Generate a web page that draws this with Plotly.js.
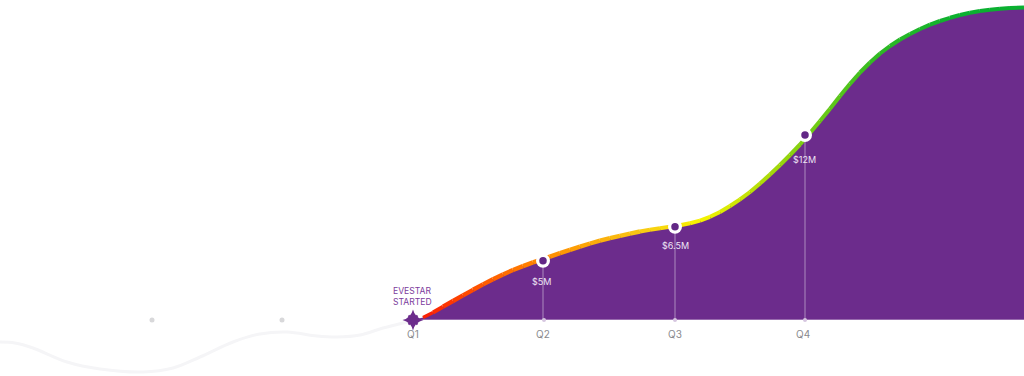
<!DOCTYPE html>
<html><head><meta charset="utf-8">
<script src="https://cdn.plot.ly/plotly-3.0.1.min.js"></script>
<style>html,body{margin:0;padding:0;background:#fff;overflow:hidden}#c{width:1024px;height:376px}</style>
</head><body><div id="c"></div>
<script>
// Growth curve (height above the baseline)
const growthX = [413,423,433,443,453,463,473,483,493,503,513,523,533,543,550,560,570,580,590,600,610,620,630,640,650,660,670,680,690,700,710,720,730,740,750,760,770,780,790,800,810,820,830,840,850,860,870,880,890,900,910,920,930,940,950,960,970,980,990,1000,1010,1024];
const growthY = [0,2.5,7.5,13.3,19,24.6,30.2,35.6,40.8,45.6,50,53.9,57.6,60.9,63.3,66.8,70.2,73.4,76.5,79.3,81.8,84.2,86.4,88.5,90.3,91.8,93.2,94.7,96.7,99.4,103.2,108,114,120.6,128,136.5,145.5,155,165,175.5,187,199,211.3,224,236.2,247.5,257.5,266.5,274,280.5,286,291,295.3,299,302.2,305,307.2,309,310.3,311.3,312,312.5];
const stopX = [418,470,530,570,640,700,770,815,880,960];
const stopColor = [[248,24,6],[255,76,0],[255,128,0],[253,155,4],[248,200,20],[248,244,0],[168,218,10],[112,204,20],[46,186,36],[10,176,48]];

// Faint lead-in curve before the start
const leadX = [0,15,33,67,100,143,173,200,233,260,287,317,337,360,383,407,413];
const leadY = [-22,-23,-28,-42,-49,-52,-48,-37,-22,-14,-12,-16,-17,-15,-8,-2,0];

// Quarters
const quarterLabels = ['Q1','Q2','Q3','Q4'];
const quarterX = [413,543,675,803];
const startX = [413];
const startY = [0];
const revenueX = [543,675,805];
const revenueY = [59.3,93.3,185];
const revenueLabels = ['$5M','$6.5M','$12M'];
const revenueLabelX = [541,675,804];
const revenueLabelY = [39,75,161];
const tickDotX = [544,675,805];
const startLines = ['EVESTAR','STARTED'];
const startLineY = [29,18.5];
const pastDotsX = [152,282];
const pastDotsY = [0,0];

const purple = '#6c2c8c';
const font = 'Inter, "Open Sans", sans-serif';
const traces = [];
function colorAt(x){
  if (x<=stopX[0]) return stopColor[0];
  for (let k=0;k<stopX.length-1;k++){
    if (x<=stopX[k+1]){
      const t=(x-stopX[k])/(stopX[k+1]-stopX[k]);
      return stopColor[k].map((c,j)=>Math.round(c+(stopColor[k+1][j]-c)*t));
    }
  }
  return stopColor[stopColor.length-1];
}
const skip='skip';
traces.push({x:leadX,y:leadY,mode:'lines',line:{color:'#f5f5f7',width:3,shape:'spline'},hoverinfo:skip});
traces.push({x:growthX,y:growthY,mode:'lines',fill:'tozeroy',fillcolor:purple,line:{color:purple,width:0},hoverinfo:skip});
traces.push({x:[413,1024],y:[0.5,0.5],mode:'lines',line:{color:'rgba(255,255,255,0.3)',width:1},hoverinfo:skip});

for (let i=1;i<growthX.length-1;i++){
  const mid=(growthX[i]+growthX[i+1])/2;
  const w = i<3 ? 2.5+i*0.8 : (mid<640 ? 4.4 : 4);
  traces.push({x:growthX.slice(i,i+2),y:growthY.slice(i,i+2),mode:'lines',
    line:{color:'rgb('+colorAt(mid).join(',')+')',width:w,simplify:false},hoverinfo:skip});
}
revenueX.forEach((x,i)=>{
  traces.push({x:[x,x],y:[0,revenueY[i]],mode:'lines',line:{color:'rgba(255,255,255,0.45)',width:1},hoverinfo:skip});
});
traces.push({x:pastDotsX,y:pastDotsY,mode:'markers',marker:{size:5,color:'#d8d8da'},hoverinfo:skip});
traces.push({x:tickDotX,y:[0,0,0],mode:'markers',marker:{size:4,color:'#d6c6e0'},hoverinfo:skip});
traces.push({x:revenueX,y:revenueY,mode:'markers',marker:{size:14,color:'#ffffff'},hoverinfo:skip});
traces.push({x:revenueX,y:revenueY,mode:'markers',marker:{size:7.5,color:'#622786'},hoverinfo:skip});
traces.push({x:startX,y:startY,mode:'markers',marker:{size:15,color:purple,symbol:'star-diamond'},hoverinfo:skip});
traces.push({x:startX,y:startY,mode:'markers',marker:{size:9,color:purple,symbol:'x-thin',line:{color:purple,width:2}},hoverinfo:skip});

const anns = [];
quarterLabels.forEach((t,i)=>anns.push({x:quarterX[i]-0.5,y:-14,text:t,showarrow:false,xanchor:'center',yanchor:'middle',font:{family:font,size:10,color:'#8a8a8e'}}));
revenueLabels.forEach((t,i)=>anns.push({x:revenueLabelX[i],y:revenueLabelY[i],text:t,showarrow:false,xanchor:'center',yanchor:'middle',font:{family:font,size:9,color:'#efe6f4'}}));
startLines.forEach((t,i)=>anns.push({x:412.5,y:startLineY[i],text:t,showarrow:false,xanchor:'center',yanchor:'middle',font:{family:font,size:8.6,color:'#7c3c9c'}}));

Plotly.newPlot('c',traces,{
  width:1024,height:376,margin:{l:0,r:0,t:0,b:0},showlegend:false,
  paper_bgcolor:'#fff',plot_bgcolor:'#fff',
  xaxis:{range:[0,1024],visible:false,fixedrange:true},
  yaxis:{range:[-56,320],visible:false,fixedrange:true},
  annotations:anns
},{displayModeBar:false,staticPlot:true});
</script></body></html>
